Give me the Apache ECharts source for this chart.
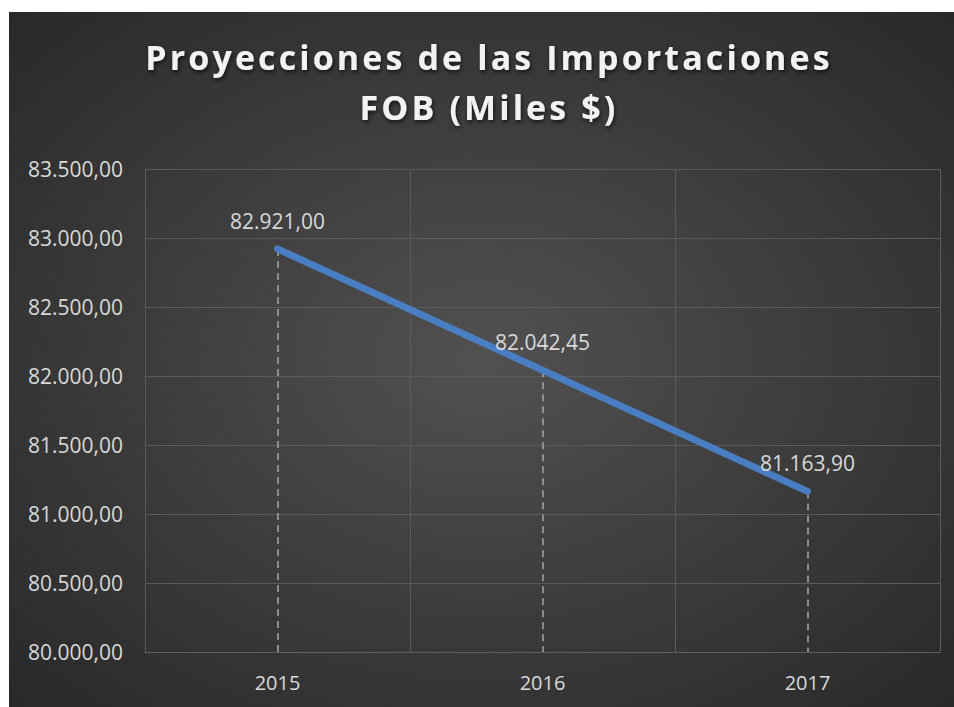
<!DOCTYPE html>
<html>
<head>
<meta charset="utf-8">
<script src="https://cdn.jsdelivr.net/npm/echarts@6/dist/echarts.min.js"></script>
<style>
html,body{margin:0;padding:0;background:#fff;}
#charts{position:absolute;left:9px;top:12px;width:945px;height:695px;}
/* espaciado del titulo */
#charts text[style*="bold"]{letter-spacing:3.1px;}
</style>
</head>
<body>
<div id="charts"></div>
<script>
var years = ['2015','2016','2017'];
var importaciones = [82921.00, 82042.45, 81163.90];
var yMin = 80000, yMax = 83500, yStep = 500;

//formato 83.500,00
function fmt(v){
	var parts = Number(v).toFixed(2).split('.');
	var ent = parts[0].replace(/\B(?=(\d{3})+(?!\d))/g, '.');
	return ent + ',' + parts[1];
}

var dropLines = [];
for(var i=0;i<years.length;i++){
	dropLines.push([{coord:[i, importaciones[i]]},{coord:[i, yMin]}]);
}

var charts = echarts.init(document.getElementById('charts'), null, {renderer:'svg'});
var option = {
	backgroundColor: {
		type:'radial', x:0.5, y:0.5, r:0.75,
		colorStops:[{offset:0,color:'#515151'},{offset:1,color:'#262626'}]
	},
	title:{
		text:'Proyecciones de las Importaciones\nFOB (Miles $)',
		left:480,
		textAlign:'center',
		top:20,
		padding:0,
		textStyle:{
			color:'#f2f2f2',
			fontFamily:'Open Sans',
			fontWeight:'bold',
			fontSize:34,
			lineHeight:50,
			textShadowColor:'rgba(0,0,0,0.7)',
			textShadowBlur:4,
			textShadowOffsetX:1,
			textShadowOffsetY:2
		}
	},
	grid:{
		left:136,
		top:157,
		right:14,
		bottom:55,
		containLabel:false
	},
	xAxis:{
		type:'category',
		data:years,
		boundaryGap:true,
		axisLine:{show:true,lineStyle:{color:'#5e5e5e',width:1}},
		axisTick:{show:false},
		axisLabel:{color:'#d9d9d9',fontFamily:'Open Sans',fontSize:20,margin:20},
		splitLine:{show:true,lineStyle:{color:'#5a5a5a',width:1}}
	},
	yAxis:{
		type:'value',
		min:yMin,
		max:yMax,
		interval:yStep,
		axisLine:{show:true,lineStyle:{color:'#5a5a5a'}},
		axisTick:{show:false},
		axisLabel:{color:'#d9d9d9',fontFamily:'Open Sans',fontSize:21,margin:22,formatter:function(v){return fmt(v);}},
		splitLine:{show:true,lineStyle:{color:'#5a5a5a',width:1}}
	},
	series:[{
		name:'Importaciones FOB',
		type:'line',
		data:importaciones,
		symbol:'circle',
		symbolSize:1,
		showSymbol:true,
		lineStyle:{color:'#4a7ec3',width:7,cap:'round'},
		itemStyle:{color:'#4a7ec3'},
		label:{
			show:true,
			position:'top',
			distance:17,
			color:'#d9d9d9',
			fontFamily:'Open Sans',
			fontSize:21,
			formatter:function(p){return fmt(p.value);}
		},
		markLine:{
			silent:true,
			symbol:'none',
			label:{show:false},
			lineStyle:{type:[7,5],color:'#a6a6a6',width:1.5},
			data:dropLines,
			z:1
		},
		z:3
	}]
};
charts.setOption(option);
</script>
</body>
</html>
